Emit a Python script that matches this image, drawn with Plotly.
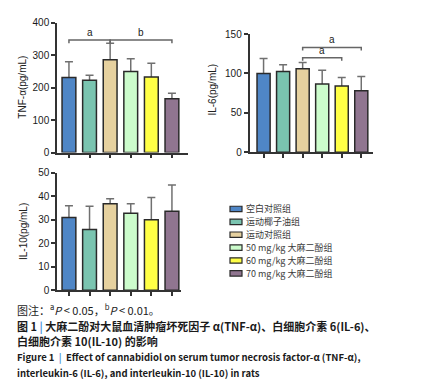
import plotly.graph_objects as go

W, H = 423, 387

groups = ["空白对照组", "运动椰子油组", "运动对照组",
          "50 mg/kg 大麻二酚组", "60 mg/kg 大麻二酚组", "70 mg/kg 大麻二酚组"]
colors = ["#4f86c6", "#7ac4b0", "#e6d19f", "#ccfccc", "#ffff46", "#907590"]

tnf_mean = [231, 223, 286, 250, 233, 166]
tnf_upper = [280, 238, 337, 289, 275, 183]
il6_mean = [100, 102.5, 106, 86.5, 84, 78]
il6_upper = [119, 111, 114, 104, 95, 96]
il10_mean = [31, 25.9, 36.9, 32.8, 30, 33.7]
il10_upper = [36, 35.8, 39, 36.8, 39.5, 44.8]

tnf_brackets = [(0, 2, 347, "a"), (2, 5, 347, "b")]
il6_brackets = [(2, 5, 133, "a"), (2, 4, 120, "a")]

xs = list(range(len(groups)))


def px_x(p):
    return p / W


def px_y(p):
    return 1 - p / H


fig = go.Figure()

panels = [
    ("x", "y", tnf_mean, tnf_upper),
    ("x2", "y2", il6_mean, il6_upper),
    ("x3", "y3", il10_mean, il10_upper),
]
for xa, ya, mean, upper in panels:
    diff = [u - m for u, m in zip(upper, mean)]
    # error bars (lower half hidden by the bars drawn on top)
    fig.add_trace(go.Bar(
        x=xs, y=mean, xaxis=xa, yaxis=ya, width=0.67,
        marker=dict(color="rgba(0,0,0,0)", line=dict(width=0)),
        error_y=dict(type="data", array=diff, symmetric=True,
                     color="#707070", thickness=1.5, width=4),
        showlegend=False, hoverinfo="skip"))
    fig.add_trace(go.Bar(
        x=xs, y=mean, xaxis=xa, yaxis=ya, width=0.67,
        marker=dict(color=colors, line=dict(color="#2a2a2a", width=1.5)),
        showlegend=False))

axis_common = dict(showline=True, linewidth=1.5, linecolor="#333333",
                   ticks="outside", ticklen=4, tickwidth=1.5, tickcolor="#333333",
                   showgrid=False, zeroline=False)
tickfont = dict(family="Liberation Sans, Arial", size=10, color="#1a1a1a")

fig.update_layout(
    width=W, height=H, margin=dict(l=0, r=0, t=0, b=0),
    paper_bgcolor="white", plot_bgcolor="white",
    barmode="overlay", showlegend=False,
    xaxis=dict(domain=[px_x(49), px_x(180)], range=[-0.58, 5.78],
               tickvals=xs, showticklabels=False, anchor="y", **axis_common),
    yaxis=dict(domain=[px_y(143), px_y(9)], range=[0, 400], dtick=100,
               tickfont=tickfont, anchor="x", **axis_common),
    xaxis2=dict(domain=[px_x(241.5), px_x(365)], range=[-0.72, 5.6],
                tickvals=xs, showticklabels=False, anchor="y2", **axis_common),
    yaxis2=dict(domain=[px_y(142.7), px_y(20.7)], range=[0, 150], dtick=50,
                tickfont=tickfont, anchor="x2", **axis_common),
    xaxis3=dict(domain=[px_x(49), px_x(173)], range=[-0.58, 5.44],
                tickvals=xs, showticklabels=False, anchor="y3", **axis_common),
    yaxis3=dict(domain=[px_y(285), px_y(164)], range=[0, 50], dtick=10,
                tickfont=tickfont, anchor="x3", **axis_common),
)

shapes = []
annotations = []

# significance brackets
for xr, yr, brs, drop in [("x", "y", tnf_brackets, 10), ("x2", "y2", il6_brackets, 4)]:
    for i0, i1, yv, lab in brs:
        shapes.append(dict(type="path", xref=xr, yref=yr,
                           path=f"M {i0},{yv - drop} L {i0},{yv} L {i1},{yv} L {i1},{yv - drop}",
                           line=dict(color="#666666", width=1.5)))
        annotations.append(dict(x=(i0 + i1) / 2, y=yv, xref=xr, yref=yr,
                                text=lab, showarrow=False, yanchor="bottom", yshift=0,
                                font=dict(family="Liberation Sans, Arial", size=10, color="#222")))

# axis titles
title_font = dict(family="Liberation Sans, Arial", size=10, color="#222")
for txt, x, y in [("TNF-α(pg/mL)", 15, 76), ("IL-6(pg/mL)", 205, 78), ("IL-10(pg/mL)", 15, 225)]:
    annotations.append(dict(x=px_x(x), y=px_y(y), xref="paper", yref="paper",
                            text=txt, textangle=-90, showarrow=False,
                            xanchor="center", yanchor="middle", font=title_font))

# legend
leg_y = [201.2 + 13.3 * i for i in range(len(groups))]
for g, c, ly in zip(groups, colors, leg_y):
    shapes.append(dict(type="rect", xref="paper", yref="paper",
                       x0=px_x(222), x1=px_x(234), y0=px_y(ly + 2.8), y1=px_y(ly - 2.8),
                       fillcolor=c, line=dict(color="#2a2a2a", width=1.2)))
    annotations.append(dict(x=px_x(237.5), y=px_y(ly), xref="paper", yref="paper",
                            text=g, showarrow=False, xanchor="left", yanchor="middle",
                            borderpad=0, borderwidth=0,
                            font=dict(family="Noto Sans CJK SC", size=9, color="#3a3a3a")))

# caption
blue_bar = '<span style="color:#4a90d9">|</span>'
cap_lines = [
    ("图注：<sup>a</sup><i>P</i> < 0.05，<sup>b</sup><i>P</i> < 0.01。", 305, False, 11),
    (f"图 1 {blue_bar} 大麻二酚对大鼠血清肿瘤坏死因子 α(TNF-α)、白细胞介素 6(IL-6)、", 321.7, True, 11),
    ("白细胞介素 10(IL-10) 的影响", 337.7, True, 11),
    (f"Figure 1  {blue_bar}  Effect of cannabidiol on serum tumor necrosis factor-α (TNF-α),", 354.3, True, 9.5),
    ("interleukin-6 (IL-6), and interleukin-10 (IL-10) in rats", 370.7, True, 9.5),
]
for txt, y, bold, fs in cap_lines:
    annotations.append(dict(x=px_x(8), y=px_y(y), xref="paper", yref="paper",
                            text=f"<b>{txt}</b>" if bold else txt, showarrow=False,
                            xanchor="left", yanchor="middle", borderpad=0,
                            font=dict(family="Noto Sans CJK SC", size=fs, color="#1a1a1a")))

fig.update_layout(shapes=shapes, annotations=annotations)
fig.write_html("out.html")
